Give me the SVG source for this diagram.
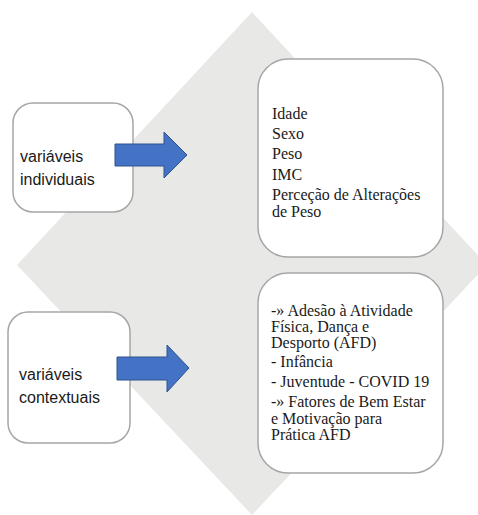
<svg xmlns="http://www.w3.org/2000/svg" width="478" height="515" viewBox="0 0 478 515">
<style>
.bg{fill:#e8e9e7;stroke:none}
.box{fill:#ffffff;stroke:#a6a6a6;stroke-width:1.5}
.arrow{fill:#4472c4;stroke:#2f528f;stroke-width:1}
.sans{font-family:"Liberation Sans","DejaVu Sans",sans-serif;font-size:16px;fill:#1a1a1a}
.serif{font-family:"Liberation Serif","Times New Roman",serif;font-size:16px;fill:#1a1a1a}
</style>
<polygon class="bg" points="252,12 487,265 252,515 17,265"/>
<g id="node-individuais">
<rect class="box" x="13" y="103" width="120" height="109" rx="20"/>
<text class="sans" x="20" y="162">variáveis</text>
<text class="sans" x="20" y="185">individuais</text>
</g>
<g id="node-lista-individuais">
<rect class="box" x="258" y="59" width="185" height="198" rx="30"/>
<text class="serif" x="272" y="119">Idade</text>
<text class="serif" x="272" y="139">Sexo</text>
<text class="serif" x="272" y="159">Peso</text>
<text class="serif" x="272" y="180">IMC</text>
<text class="serif" x="272" y="200">Perceção de Alterações</text>
<text class="serif" x="272" y="217">de Peso</text>
</g>
<g id="node-contextuais">
<rect class="box" x="8" y="312" width="122" height="131" rx="20"/>
<text class="sans" x="19" y="380">variáveis</text>
<text class="sans" x="19" y="403">contextuais</text>
</g>
<g id="node-lista-contextuais">
<rect class="box" x="258" y="273" width="185" height="200" rx="30"/>
<text class="serif" x="271" y="316">-» Adesão à Atividade</text>
<text class="serif" x="271" y="332">Física, Dança e</text>
<text class="serif" x="271" y="348">Desporto (AFD)</text>
<text class="serif" x="271" y="367">- Infância</text>
<text class="serif" x="271" y="387">- Juventude - COVID 19</text>
<text class="serif" x="271" y="407">-» Fatores de Bem Estar</text>
<text class="serif" x="271" y="424">e Motivação para</text>
<text class="serif" x="271" y="440">Prática AFD</text>
</g>
<g id="connectors">
<polygon class="arrow" points="115,144 164,144 164,132 187,155 164,178 164,166 115,166"/>
<polygon class="arrow" points="117,357 167,357 167,345 189,368 167,392 167,380 117,380"/>
</g>
</svg>
